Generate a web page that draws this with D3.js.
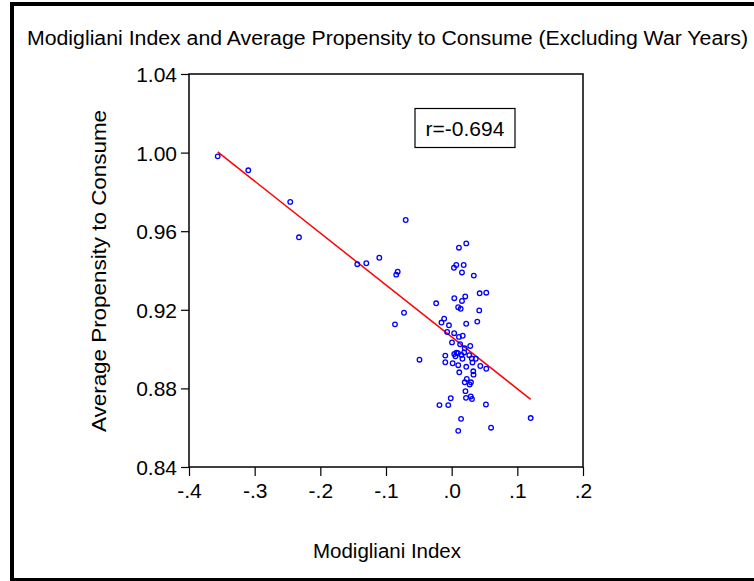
<!DOCTYPE html>
<html>
<head>
<meta charset="utf-8">
<script src="https://cdn.jsdelivr.net/npm/d3@7"></script>
<style>
	body { margin: 0; background: #fff; }
	text { font-family: 'Liberation Sans', Arial, sans-serif; }
</style>
</head>
<body>
<div id="plot"></div>
<script>
// MODIGLIANI INDEX SCATTER
var w = 754;
var h = 581;

// Data Source
var modIndex = [
	-0.3563, -0.3097, -0.2458, -0.2325, -0.1437, -0.1300, -0.1102, -0.0700, -0.0822, -0.0844,
	-0.0726, -0.0863, -0.0490, -0.0236, 0.1203, 0.0222, 0.0111, 0.0070, 0.0035, 0.0183,
	0.0157, 0.0337, 0.0040, 0.0207, 0.0157, 0.0426, 0.0527, 0.0099, 0.0137, 0.0420,
	-0.0114, -0.0155, -0.0041, 0.0221, 0.0390, -0.0069, 0.0038, 0.0111, 0.0168, 0.0005,
	0.0129, 0.0283, 0.0199, 0.0040, 0.0073, 0.0058, 0.0096, 0.0149, 0.0190, 0.0164,
	0.0268, 0.0306, 0.0367, 0.0317, -0.0097, -0.0097, 0.0015, 0.0100, 0.0222, 0.0436,
	0.0527, 0.0116, 0.0329, 0.0333, 0.0230, 0.0199, 0.0294, 0.0274, 0.0210, 0.0218,
	0.0291, 0.0309, -0.0014, -0.0186, -0.0052, 0.0522, 0.0143, 0.0100, 0.0600
];
var apc = [
	0.9981, 0.9910, 0.9749, 0.9569, 0.9432, 0.9437, 0.9465, 0.9657, 0.9394, 0.9379,
	0.9185, 0.9126, 0.8946, 0.9233, 0.8649, 0.9538, 0.9516, 0.9428, 0.9414, 0.9428,
	0.9390, 0.9374, 0.9259, 0.9268, 0.9245, 0.9284, 0.9287, 0.9213, 0.9205, 0.9197,
	0.9155, 0.9135, 0.9121, 0.9129, 0.9140, 0.9087, 0.9081, 0.9062, 0.9068, 0.9034,
	0.9025, 0.9016, 0.9004, 0.8975, 0.8982, 0.8963, 0.8979, 0.8970, 0.8983, 0.8951,
	0.8969, 0.8952, 0.8951, 0.8932, 0.8967, 0.8933, 0.8928, 0.8918, 0.8910, 0.8914,
	0.8900, 0.8882, 0.8887, 0.8870, 0.8848, 0.8831, 0.8831, 0.8820, 0.8786, 0.8752,
	0.8759, 0.8746, 0.8750, 0.8715, 0.8715, 0.8718, 0.8645, 0.8584, 0.8600
];

// fitted line and its correlation
var fitIntercept = 0.9062;
var fitSlope = -0.2642;
var corrLabel = 'r=-0.694';

// tick labels
var xTicks = [-0.4, -0.3, -0.2, -0.1, 0.0, 0.1, 0.2];
var yTicks = [0.84, 0.88, 0.92, 0.96, 1.00, 1.04];

var points = modIndex.map(function (d, i) { return { x: d, y: apc[i] }; });

// Create our SVG
var svg = d3.select('#plot').append('svg')
	.attr('width', w)
	.attr('height', h);

// outer border (right side runs off the page)
svg.append('rect')
	.attr('x', 12)
	.attr('y', 4)
	.attr('width', 780)
	.attr('height', 576)
	.attr('fill', 'none')
	.attr('stroke', '#000')
	.attr('stroke-width', 4);

var xScale = d3.scaleLinear().domain([-0.4, 0.2]).range([189, 583]);
var yScale = d3.scaleLinear().domain([0.84, 1.04]).range([467, 74]);

// axes (plain hyphen, no leading zero on x)
var xAxis = d3.axisBottom(xScale)
	.tickValues(xTicks)
	.tickSize(9)
	.tickSizeOuter(0)
	.tickPadding(7)
	.tickFormat(function (d) {
		return d3.format('.1f')(d).replace('\u2212', '-').replace('0.', '.');
	});

var yAxis = d3.axisLeft(yScale)
	.tickValues(yTicks)
	.tickSize(8)
	.tickSizeOuter(0)
	.tickPadding(4)
	.tickFormat(d3.format('.2f'));

var gx = svg.append('g')
	.attr('transform', 'translate(0,' + yScale(0.84) + ')')
	.call(xAxis);

var gy = svg.append('g')
	.attr('transform', 'translate(' + xScale(-0.4) + ',0)')
	.call(yAxis);

[gx, gy].forEach(function (g) {
	g.select('.domain').remove();
	g.selectAll('line').attr('stroke', '#000').attr('stroke-width', 1.2);
	g.selectAll('text')
		.attr('font-family', "'Liberation Sans', Arial, sans-serif")
		.attr('font-size', '21px')
		.attr('fill', '#000');
});
gy.selectAll('text').attr('dy', '0.36em');

// plot frame
svg.append('rect')
	.attr('x', xScale(-0.4))
	.attr('y', yScale(1.04))
	.attr('width', xScale(0.2) - xScale(-0.4))
	.attr('height', yScale(0.84) - yScale(1.04))
	.attr('fill', 'none')
	.attr('stroke', '#000')
	.attr('stroke-width', 1.5);

// regression line across the data range
var xExt = d3.extent(modIndex);
svg.append('line')
	.attr('x1', xScale(xExt[0]))
	.attr('y1', yScale(fitIntercept + fitSlope * xExt[0]))
	.attr('x2', xScale(xExt[1]))
	.attr('y2', yScale(fitIntercept + fitSlope * xExt[1]))
	.attr('stroke', '#ff0000')
	.attr('stroke-width', 1.5);

// add dots
svg.selectAll('circle.pt')
	.data(points)
	.enter()
	.append('circle')
	.attr('class', 'pt')
	.attr('cx', function (d) { return xScale(d.x); })
	.attr('cy', function (d) { return yScale(d.y); })
	.attr('r', 2.3)
	.attr('fill', 'none')
	.attr('stroke', '#0000ff')
	.attr('stroke-width', 1.3);

// correlation box
svg.append('rect')
	.attr('x', 415)
	.attr('y', 108.5)
	.attr('width', 100)
	.attr('height', 39)
	.attr('fill', '#fff')
	.attr('stroke', '#000')
	.attr('stroke-width', 1.2);

svg.append('text')
	.text(corrLabel)
	.attr('x', 465)
	.attr('y', 136)
	.attr('text-anchor', 'middle')
	.attr('font-size', '21px');

// Add Labels
svg.append('text')
	.text('Modigliani Index and Average Propensity to Consume (Excluding War Years)')
	.attr('x', 27)
	.attr('y', 45)
	.attr('font-size', '20px')
	.attr('textLength', 721)
	.attr('lengthAdjust', 'spacingAndGlyphs');

svg.append('text')
	.text('Modigliani Index')
	.attr('x', 387)
	.attr('y', 558)
	.attr('text-anchor', 'middle')
	.attr('font-size', '20px')
	.attr('textLength', 148)
	.attr('lengthAdjust', 'spacingAndGlyphs');

svg.append('text')
	.text('Average Propensity to Consume')
	.attr('transform', 'translate(106,271) rotate(-90)')
	.attr('text-anchor', 'middle')
	.attr('font-size', '20px')
	.attr('textLength', 322)
	.attr('lengthAdjust', 'spacingAndGlyphs');
</script>
</body>
</html>
